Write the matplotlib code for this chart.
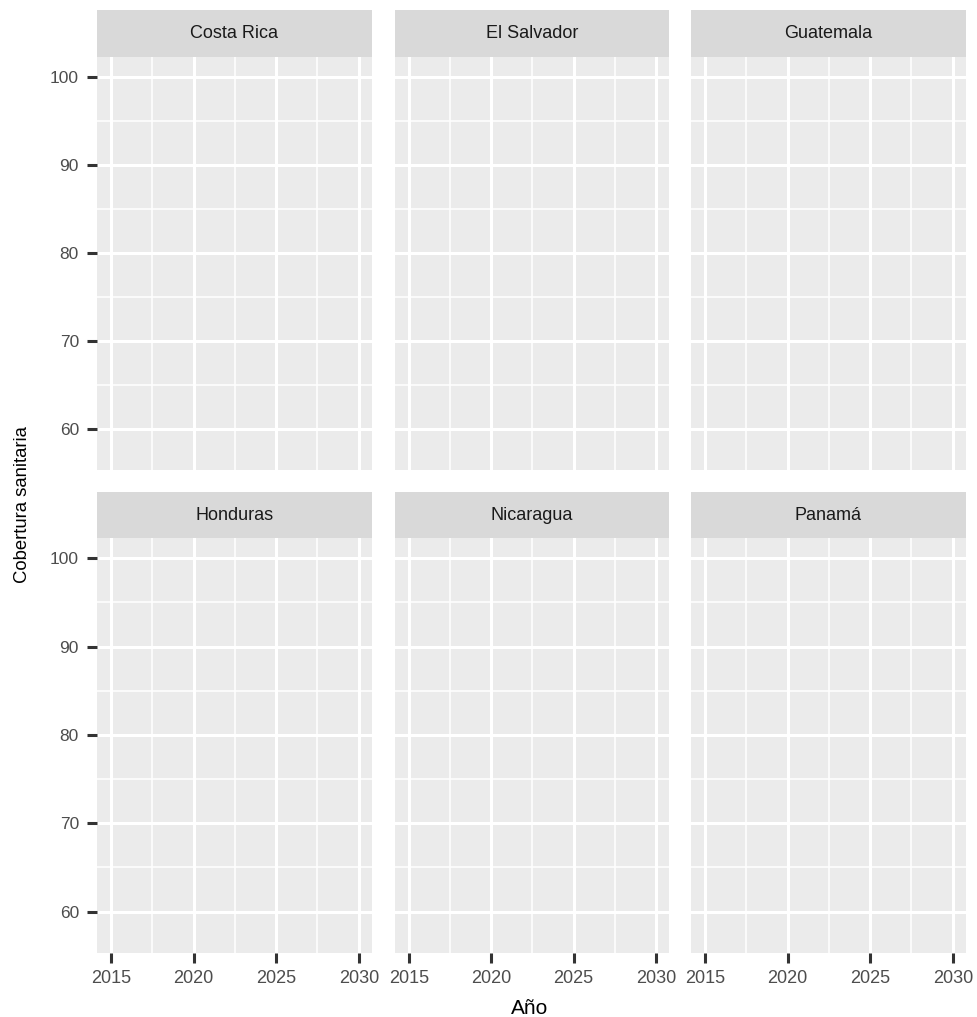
import numpy as np
import matplotlib.pyplot as plt

# --------------------------------
# Data (facets are empty in the reference)
# --------------------------------
countries = ["Costa Rica", "El Salvador", "Guatemala",
             "Honduras", "Nicaragua", "Panamá"]
x_ticks = [2015, 2020, 2025, 2030]
x_minor = [2017.5, 2022.5, 2027.5]
y_ticks = [60, 70, 80, 90, 100]
y_minor = [55, 65, 75, 85, 95]
x_lim = (2014.15, 2030.8)
y_lim = (55.3, 102.3)

W, H = 978, 1017
plt.rcParams["font.family"] = ["Liberation Sans", "DejaVu Sans"]

fig = plt.figure(figsize=(W / 100, H / 100), dpi=100)

# panel boxes in pixels (left, right) and (strip top, panel top, panel bottom)
cols = [(97, 372), (395, 669), (691, 966)]
rows = [(10, 57, 470), (492, 538, 953)]


def px(x0, y0, x1, y1):
    return [x0 / W, 1 - y1 / H, (x1 - x0) / W, (y1 - y0) / H]


for i, country in enumerate(countries):
    r, c = divmod(i, 3)
    xl, xr = cols[c]
    st, pt, pb = rows[r]

    # strip
    sax = fig.add_axes(px(xl, st, xr, pt))
    sax.set_facecolor("#D9D9D9")
    sax.set_xticks([])
    sax.set_yticks([])
    for s in sax.spines.values():
        s.set_visible(False)
    sax.text(0.5, 0.5, country, ha="center", va="center",
             fontsize=13, color="#1A1A1A", transform=sax.transAxes)

    # panel
    ax = fig.add_axes(px(xl, pt, xr, pb))
    ax.set_facecolor("#EBEBEB")
    ax.set_xlim(*x_lim)
    ax.set_ylim(*y_lim)
    for s in ax.spines.values():
        s.set_visible(False)
    for v in x_minor:
        ax.axvline(v, color="white", lw=1.1, zorder=0)
    for v in y_minor:
        ax.axhline(v, color="white", lw=1.1, zorder=0)
    for v in x_ticks:
        ax.axvline(v, color="white", lw=2.2, zorder=0)
    for v in y_ticks:
        ax.axhline(v, color="white", lw=2.2, zorder=0)
    ax.set_axisbelow(True)

    ax.set_xticks(x_ticks)
    ax.set_yticks(y_ticks)
    ax.tick_params(axis="both", length=7, width=2.2, color="#333333",
                   labelcolor="#4D4D4D")
    ax.tick_params(axis="x", labelsize=13, pad=5)
    ax.tick_params(axis="y", labelsize=12.5, pad=6)
    if c != 0:
        ax.tick_params(axis="y", left=False, labelleft=False)
    if r != 1:
        ax.tick_params(axis="x", bottom=False, labelbottom=False)

fig.text(530 / W, 1 - 1008 / H, "Año", ha="center", va="center",
         fontsize=15, color="black")
fig.text(23 / W, 1 - 505 / H, "Cobertura sanitaria", ha="center",
         va="center", rotation=90, fontsize=13.3, color="black")

plt.savefig("out.png", dpi=100)
plt.close()
